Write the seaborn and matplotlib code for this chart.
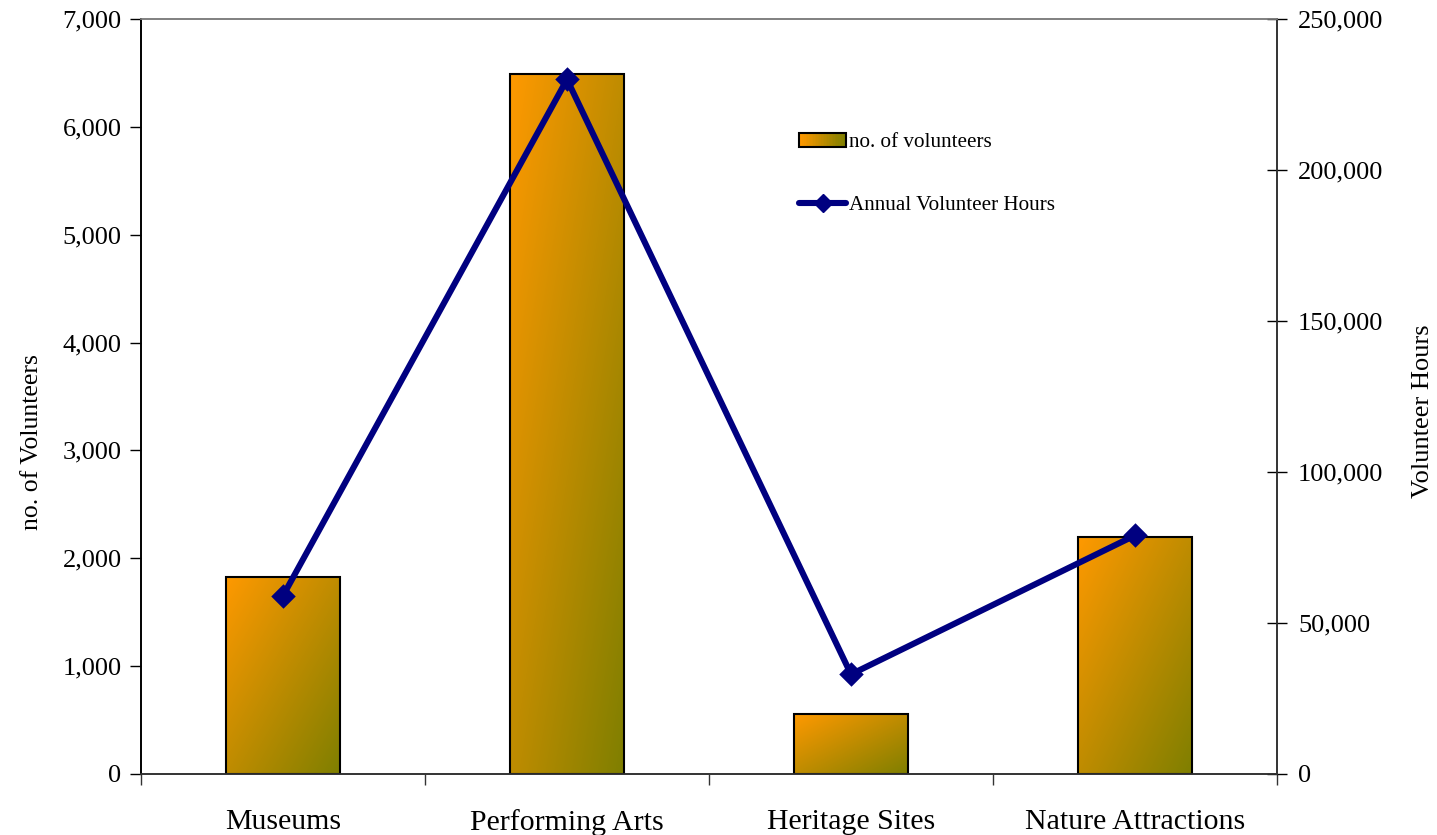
import numpy as np
import pandas as pd
import matplotlib
matplotlib.use("Agg")
import matplotlib.pyplot as plt
import matplotlib.colors as mcolors
from matplotlib.patches import Rectangle, Patch
from matplotlib.lines import Line2D
from matplotlib.legend_handler import HandlerBase
from matplotlib.ticker import FuncFormatter, MultipleLocator
import seaborn as sns

categories = ["Museums", "Performing Arts", "Heritage Sites", "Nature Attractions"]
volunteers = [1830, 6490, 555, 2195]
annual_hours = [59000, 230000, 33000, 79000]

bar_label = "no. of volunteers"
line_label = "Annual Volunteer Hours"
left_title = "no. of Volunteers"
right_title = "Volunteer Hours"

ORANGE = np.array(mcolors.to_rgb("#ff9900"))
OLIVE = np.array(mcolors.to_rgb("#7f7f00"))
NAVY = "#000080"


def mix(t):
    return tuple(ORANGE * (1 - t) + OLIVE * t)


sns.set_theme(style="white")
plt.rcParams["font.family"] = ["Liberation Serif", "DejaVu Serif"]
plt.rcParams.update({"text.color": "black", "axes.labelcolor": "black",
                     "xtick.color": "black", "ytick.color": "black"})

df = pd.DataFrame({"category": categories, "volunteers": volunteers, "hours": annual_hours})

fig = plt.figure(figsize=(14.37, 8.35), dpi=100)
ax = fig.add_axes([0.0981, 0.0731, 0.7906, 0.9041])

sns.barplot(data=df, x="category", y="volunteers", ax=ax, width=0.4,
            color=ORANGE, edgecolor="black", linewidth=1.5, saturation=1)

# diagonal gradient fill: orange at top-left, olive at bottom-right
n = 200
u = np.linspace(0, 1, n)
U, V = np.meshgrid(u, u)
T = (U + V) / 2
grad = ORANGE[None, None, :] * (1 - T[..., None]) + OLIVE[None, None, :] * T[..., None]
for p in list(ax.patches):
    x0, y0 = p.get_x(), p.get_y()
    w, h = p.get_width(), p.get_height()
    im = ax.imshow(grad, extent=[x0, x0 + w, y0, y0 + h], aspect="auto",
                   zorder=2, interpolation="bilinear")
    im.set_clip_path(p)
    p.set_facecolor("none")
    p.set_zorder(3)

ax.set_xlim(-0.5, 3.5)
ax.set_ylim(0, 7000)
ax.yaxis.set_major_locator(MultipleLocator(1000))
ax.yaxis.set_major_formatter(FuncFormatter(lambda v, _: f"{int(v):,}"))
ax.set_xlabel("")
ax.set_ylabel(left_title, fontsize=18.5, labelpad=14)
ax.yaxis.label.set_y(0.44)

# category labels centred, tick marks at the category boundaries
ax.set_xticks(np.arange(-0.5, 4.0, 1.0))
ax.set_xticklabels([])
ax.set_xticks(np.arange(len(categories)), minor=True)
ax.set_xticklabels(categories, minor=True, fontsize=21.5)
ax.tick_params(axis="x", which="major", direction="out", length=8, width=1, color="#333333", bottom=True)
ax.tick_params(axis="x", which="minor", length=0, pad=25)
ax.tick_params(axis="y", direction="out", length=8, width=1, color="black", left=True,
               labelsize=19, pad=6)

ax2 = ax.twinx()
sns.pointplot(data=df, x="category", y="hours", ax=ax2, color=NAVY, markers="D",
              markersize=9, linewidth=4.4, errorbar=None)
ax2.set_xlim(-0.5, 3.5)
ax2.set_ylim(0, 250000)
ax2.yaxis.set_major_locator(MultipleLocator(50000))
ax2.yaxis.set_major_formatter(FuncFormatter(lambda v, _: f"{int(v):,}"))
ax2.set_ylabel(right_title, fontsize=19, labelpad=21)
ax2.yaxis.label.set_y(0.481)
ax2.set_xlabel("")
ax2.tick_params(axis="y", direction="inout", length=14, width=1, color="black", right=True,
                labelsize=19, pad=8)
ax2.tick_params(axis="x", which="both", length=0, labelbottom=False)

for a in (ax, ax2):
    for side, sp in a.spines.items():
        sp.set_visible(True)
        sp.set_linewidth(1.2)
    a.spines["top"].set_color("#808080")
    a.spines["bottom"].set_color("#333333")
    a.spines["left"].set_color("black")
    a.spines["right"].set_color("#333333")
    a.grid(False)


class GradientHandler(HandlerBase):
    def create_artists(self, legend, orig_handle, xdescent, ydescent, width, height,
                       fontsize, trans):
        arts = []
        k = 30
        for i in range(k):
            arts.append(Rectangle((-xdescent + width * i / k, -ydescent), width / k * 1.05, height,
                                  facecolor=mix(i / (k - 1)), edgecolor="none", transform=trans))
        arts.append(Rectangle((-xdescent, -ydescent), width, height, fill=False,
                              edgecolor="black", linewidth=1.5, transform=trans))
        return arts


handles = [Patch(label=bar_label),
           Line2D([], [], color=NAVY, lw=4.4, marker="D", markersize=9, label=line_label)]
fig.legend(handles=handles, loc="upper left", bbox_to_anchor=(0.5489, 0.853),
           frameon=False, fontsize=15.2, borderpad=0, handlelength=2.2, handleheight=0.6,
           handletextpad=0.15, labelspacing=2.05, numpoints=1,
           handler_map={Patch: GradientHandler()})

fig.savefig("out.png", dpi=100)
